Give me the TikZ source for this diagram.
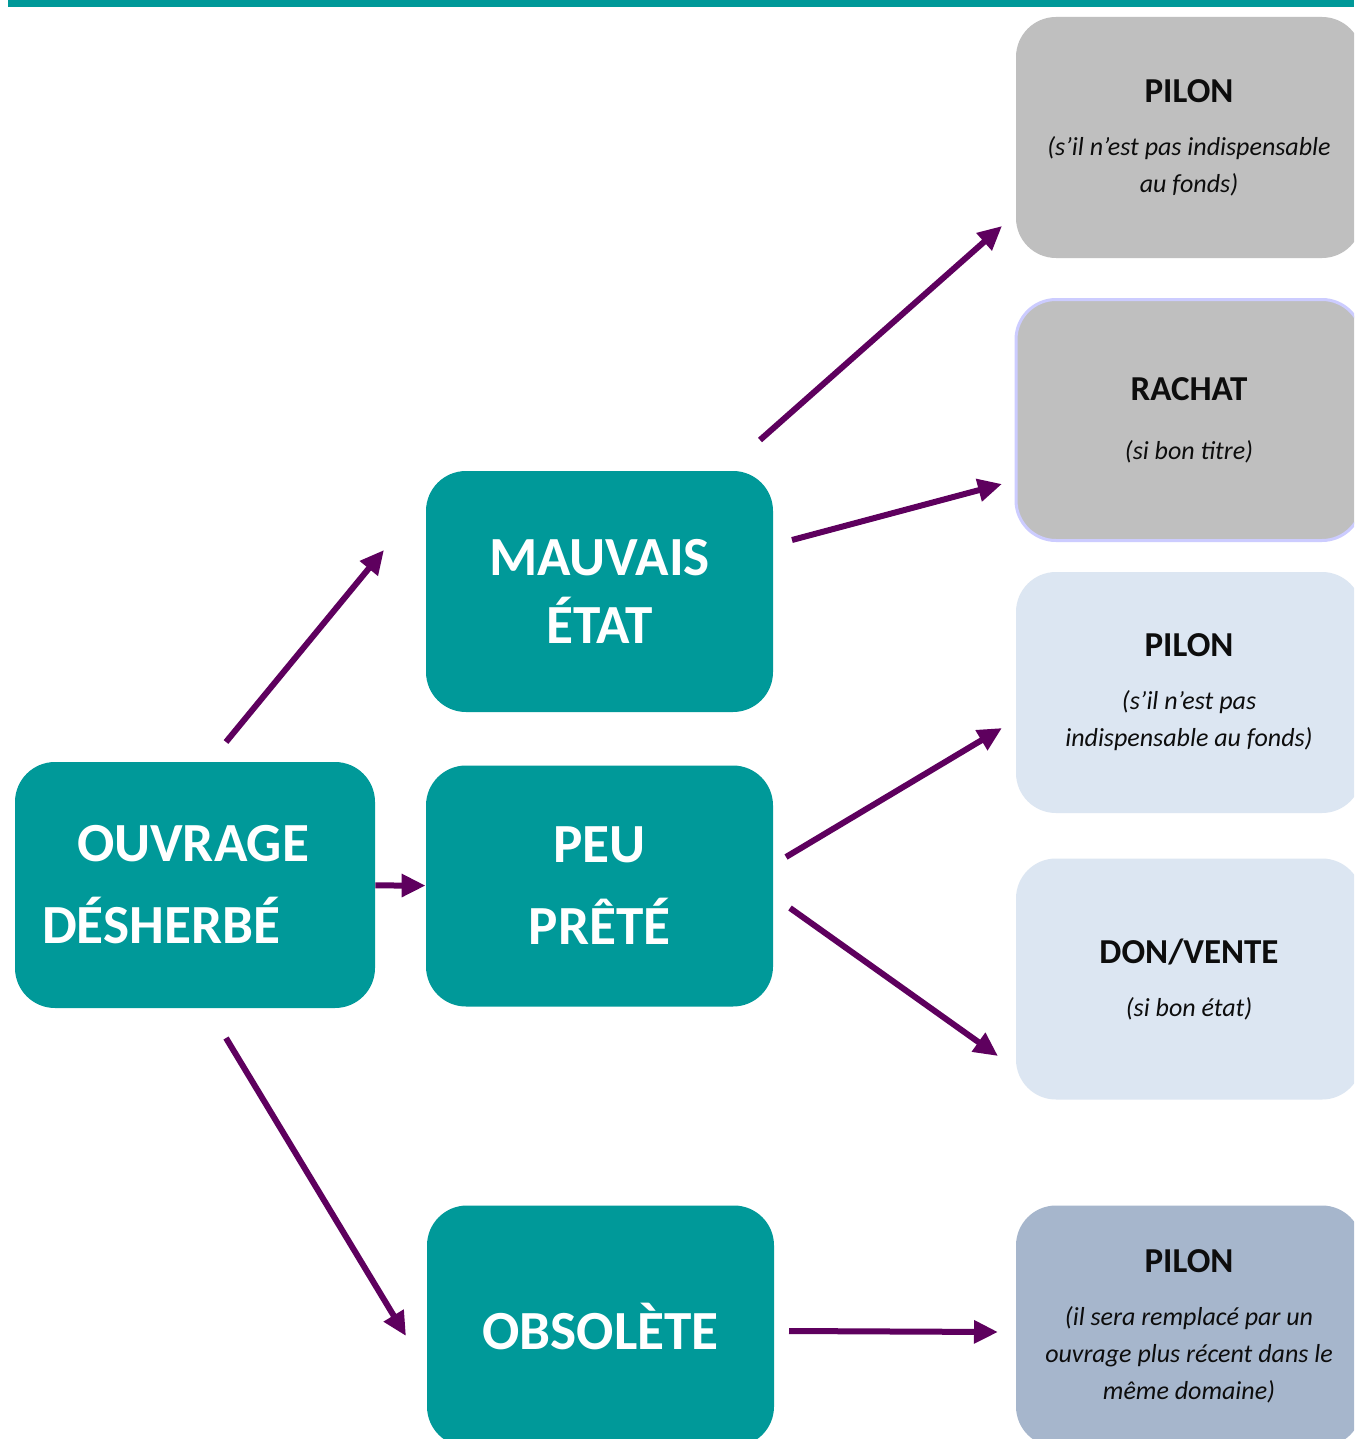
\documentclass[tikz,border=0pt]{standalone}
\usepackage{fontspec}
\setmainfont{Carlito}
\usetikzlibrary{arrows.meta}
\definecolor{tealbox}{RGB}{0,153,153}
\definecolor{arrcol}{RGB}{94,0,94}
\definecolor{grayout}{RGB}{191,191,191}
\definecolor{lightout}{RGB}{220,230,242}
\definecolor{steelout}{RGB}{166,182,204}
\definecolor{lavborder}{RGB}{204,204,255}
\definecolor{textdark}{RGB}{13,13,13}
\newcommand{\ttl}{\bfseries\fontsize{17.5pt}{18.5pt}\selectfont}
\begin{document}
\begin{tikzpicture}[x=0.5pt,y=-0.5pt,
  mainbox/.style={fill=tealbox, rounded corners=20pt, text=white,
    font=\bfseries\fontsize{27.6pt}{34pt}\selectfont, align=center, inner sep=0pt,
    minimum width=173.5pt, minimum height=120.5pt},
  outbox/.style={rounded corners=20pt, minimum width=173pt, minimum height=120.5pt,
    align=center, inner sep=0pt, text=textdark,
    font=\fontsize{13pt}{18.5pt}\selectfont},
  arr/.style={draw=arrcol, line width=3pt, -{Triangle[length=12pt,width=11pt]}}
]
\clip (0,0) rectangle (1354,1439);
\fill[white] (0,0) rectangle (1354,1439);
\fill[tealbox] (8,0) rectangle (1354,7);

% main boxes
\node[mainbox, minimum width=180pt, minimum height=123pt, align=left,
      text width=153pt, inner xsep=13pt,
      font=\bfseries\fontsize{27.6pt}{41pt}\selectfont] (ouvrage) at (195,885)
      {\hspace*{17.5pt}OUVRAGE\\DÉSHERBÉ};
\node[mainbox, text depth=-2pt] (mauvais) at (599.5,591.5) {MAUVAIS\\ÉTAT};
\node[mainbox, font=\bfseries\fontsize{27.6pt}{41pt}\selectfont] (peu) at (599.5,886) {PEU\\PRÊTÉ};
\node[mainbox] (obsolete) at (600.5,1326) {OBSOLÈTE};

% outcome boxes
\node[outbox, fill=grayout] (pilonA) at (1189,137.5)
  {{\ttl PILON}\\[8pt]
   \itshape (s’il n’est pas indispensable\\ \itshape au fonds)};
\node[outbox, fill=grayout, draw=lavborder, line width=1.5pt] (rachat) at (1189,420)
  {{\ttl RACHAT}\\[11pt]
   \itshape (si bon titre)};
\node[outbox, fill=lightout] (pilonB) at (1189,692.5)
  {{\ttl PILON}\\[8pt]
   \itshape (s’il n’est pas\\ \itshape indispensable au fonds)};
\node[outbox, fill=lightout] (don) at (1189,979)
  {{\ttl DON/VENTE}\\[8pt]
   \itshape (si bon état)};
\node[outbox, fill=steelout] (pilonC) at (1189,1326)
  {{\ttl PILON}\\[8pt]
   \itshape (il sera remplacé par un\\ \itshape ouvrage plus récent dans le\\ \itshape même domaine)};

% connector end points
\coordinate (a1s) at (226,742);  \coordinate (a1e) at (384,550);
\coordinate (a3s) at (226,1038); \coordinate (a3e) at (406,1336);
\coordinate (a4s) at (760,440);  \coordinate (a4e) at (1002,226);
\coordinate (a5s) at (792,540);  \coordinate (a5e) at (1002,484);
\coordinate (a6s) at (786,857);  \coordinate (a6e) at (1002,728);
\coordinate (a7s) at (790,908);  \coordinate (a7e) at (998,1056);
\coordinate (a8s) at (789,1331); \coordinate (a8e) at (998,1332);

\draw[arr] (a1s) -- (a1e);
\draw[arr] (ouvrage) -- (peu);
\draw[arr] (a3s) -- (a3e);
\draw[arr] (a4s) -- (a4e);
\draw[arr] (a5s) -- (a5e);
\draw[arr] (a6s) -- (a6e);
\draw[arr] (a7s) -- (a7e);
\draw[arr] (a8s) -- (a8e);
\end{tikzpicture}
\end{document}
